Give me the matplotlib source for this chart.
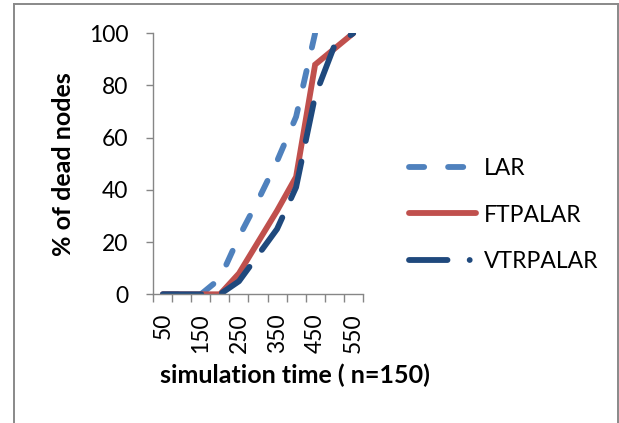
import matplotlib
matplotlib.use('Agg')
import matplotlib.pyplot as plt
from matplotlib.lines import Line2D
import numpy as np

# simulation time categories (n=150)
sim_time = [50, 100, 150, 200, 250, 300, 350, 400, 450, 500, 550]
# % of dead nodes
lar = [0, 0, 0, 6, 22, 36, 51, 68, 100, np.nan, np.nan]
ftpalar = [0, 0, 0, 0, 8, 20, 32, 45, 88, 94, 100]
vtrpalar = [0, 0, 0, 0, 5, 15, 25, 41, 76, 95, 100]

c_lar = '#4F81BD'
c_ftp = '#C0504D'
c_vtr = '#1F497D'

plt.rcParams['font.family'] = ['Lato', 'DejaVu Sans']
fs = 16.5
fs_lab = 18

fig = plt.figure(figsize=(6.19, 4.23), dpi=100)
W, H = 619, 423
ax = fig.add_axes([153.3 / W, 1 - 294.3 / H, 209.4 / W, 261 / H])

x = np.arange(len(sim_time))
lw = 4.2
ax.plot(x, lar, color=c_lar, lw=lw, dashes=(2.6, 4.1),
        dash_capstyle='round', solid_capstyle='round')
ax.plot(x, ftpalar, color=c_ftp, lw=lw, solid_capstyle='round',
        solid_joinstyle='miter')
ax.plot(x, vtrpalar, color=c_vtr, lw=lw, dashes=(6.6, 3.6),
        dash_capstyle='round', solid_capstyle='round')

ax.set_xlim(-0.5, len(sim_time) - 0.5)
ax.set_ylim(0, 100)
ax.set_yticks(range(0, 101, 20))
ax.set_xticks(x[::2])
ax.set_xticklabels([str(t) for t in sim_time[::2]], rotation=90)
ax.set_xticks(np.arange(-0.5, len(sim_time)), minor=True)

for s in ['top', 'right']:
    ax.spines[s].set_visible(False)
for s in ['left', 'bottom']:
    ax.spines[s].set_color('#868686')
    ax.spines[s].set_linewidth(1.0)

ax.tick_params(axis='y', which='major', length=4.8, width=1.0,
               color='#868686', pad=13, labelsize=fs)
ax.tick_params(axis='x', which='major', length=0, pad=13.5, labelsize=fs)
ax.tick_params(axis='x', which='minor', length=5.5, width=1.0,
               color='#868686')

ax.set_xlabel('simulation time ( n=150)', fontsize=fs_lab, fontweight='bold')
ax.xaxis.label.set_va('center')
ax.xaxis.set_label_coords(0.677, -0.312)
ax.set_ylabel('% of dead nodes', fontsize=fs_lab, fontweight='bold')
ax.yaxis.label.set_va('center')
ax.yaxis.set_label_coords(-0.431, 0.499)

handles = [
    Line2D([], [], color=c_lar, lw=lw, dashes=(2.6, 4.1), dash_capstyle='round'),
    Line2D([], [], color=c_ftp, lw=lw, solid_capstyle='round'),
    Line2D([], [], color=c_vtr, lw=lw, dashes=(6.6, 3.8, 0.01, 3.8),
           dash_capstyle='round'),
]
ax.legend(handles, ['LAR', 'FTPALAR', 'VTRPALAR'], loc='center left',
          bbox_to_anchor=(409.5 / W, 1 - 215 / H), bbox_transform=fig.transFigure,
          frameon=False, fontsize=fs, handlelength=2.9, handletextpad=0.35,
          labelspacing=1.12, borderpad=0, borderaxespad=0)

# outer chart border (no bottom edge visible)
bc = '#898989'
fig.add_artist(Line2D([13.7 / W, 13.7 / W], [0, 1 - 4.5 / H], color=bc, lw=1.4,
                      transform=fig.transFigure))
fig.add_artist(Line2D([13.7 / W, 617.7 / W], [1 - 4.5 / H, 1 - 4.5 / H], color=bc,
                      lw=1.4, transform=fig.transFigure))
fig.add_artist(Line2D([617.7 / W, 617.7 / W], [0, 1 - 4.5 / H], color=bc, lw=1.4,
                      transform=fig.transFigure))

fig.savefig('out.png', dpi=100)
